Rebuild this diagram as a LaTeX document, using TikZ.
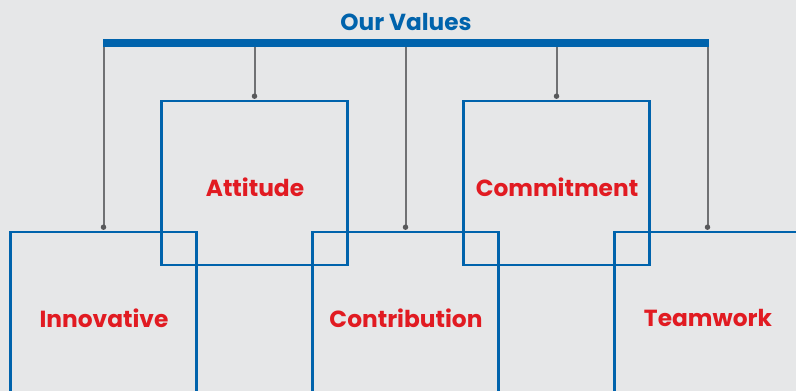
\documentclass[tikz,border=0pt]{standalone}
\usepackage{fontspec}
\setmainfont{Poppins}
\definecolor{bgray}{HTML}{E6E7E8}
\definecolor{vblue}{HTML}{0063AC}
\definecolor{vred}{HTML}{E11B22}
\definecolor{lgray}{HTML}{707173}
\definecolor{dgray}{HTML}{58595B}
\begin{document}
\begin{tikzpicture}[x=1pt,y=-1pt,
  valbox/.style={draw=vblue,line width=2.6pt,minimum width=186pt,minimum height=164pt,inner sep=0pt},
  vallabel/.style={text=vred,font=\bfseries\fontsize{23.3}{26}\selectfont,inner sep=0pt},
  stem/.style={draw=lgray,line width=2pt},
  tipdot/.style={circle,fill=dgray,minimum size=5.5pt,inner sep=0pt}]
  \fill[bgray] (0,0) rectangle (796,391);
  \useasboundingbox (0,0) rectangle (796,391);
  \clip (0,0) rectangle (796,391);
  % heading and bar
  \node[text=vblue,font=\bfseries\fontsize{23.2}{26}\selectfont,inner sep=0pt] (title) at (406,22) {Our Values};
  \node[fill=vblue,minimum width=606pt,minimum height=7.5pt,inner sep=0pt] (bar) at (406,43.2) {};
  % value boxes
  \node[valbox] (att) at (254.5,183) {};
  \node[valbox] (com) at (556.5,183) {};
  \node[valbox] (inn) at (103.5,314) {};
  \node[valbox] (con) at (405.5,314) {};
  \node[valbox] (tea) at (707.5,314) {};
  % labels
  \node[vallabel] (attT) at (255,187) {Attitude};
  \node[vallabel] (comT) at (557,187) {Commitment};
  \node[vallabel] (innT) at (104,318) {Innovative};
  \node[vallabel] (conT) at (406,318) {Contribution};
  \node[vallabel] (teaT) at (708,318) {Teamwork};
  % stems from the bar down to a dot just above each box
  \foreach \b in {att,com,inn,con,tea}{
    \coordinate (\b E) at ([yshift=3.5pt]\b.north);
    \draw[stem] (\b E |- bar.south) -- (\b E);
    \node[tipdot] at (\b E) {};
  }
\end{tikzpicture}
\end{document}
